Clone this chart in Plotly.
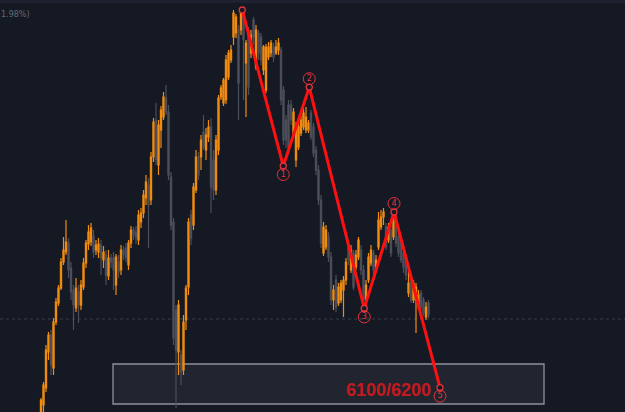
import plotly.graph_objects as go

# ---------------- data (prices) ----------------
opens = [
    6080, 6097.5, 6140, 6230, 6272.5, 6190, 6305, 6352.5, 6390, 6455, 6480, 6502.5, 6440, 6385, 6340, 6380, 6347.5, 6392.5, 6452.5, 6500,
    6505, 6520, 6485, 6480, 6497.5, 6460, 6472.5, 6420, 6465, 6465, 6397.5, 6455, 6435, 6485, 6490, 6447.5, 6502.5, 6535, 6530, 6510,
    6555, 6577.5, 6615, 6647.5, 6610, 6717.5, 6810, 6697.5, 6785, 6817.5, 6865, 6830, 6667.5, 6555, 6335,
    6230, 6222.5, 6185, 6310, 6392.5, 6572.5, 6547.5, 6635, 6717.5, 6717.5, 6780, 6735, 6767.5, 6792.5, 6710, 6635, 6735, 6867.5, 6852.5, 6860,
    6917.5, 6960, 7017.5, 7027.5, 7035, 7035, 7080, 6952.5, 7035, 6977.5, 7060, 6942.5, 7027.5, 7017.5, 6935, 6885, 6967.5, 6977.5, 6992.5, 6977.5,
    6985, 6985, 6885, 6810, 6847.5,
    6847.5, 6777.5, 6710, 6742.5, 6777.5, 6792.5, 6785, 6785, 6827.5, 6792.5, 6735, 6685, 6610,
    6477.5, 6492.5, 6517.5, 6467.5, 6360, 6410, 6352.5, 6360, 6385, 6410, 6492.5, 6435, 6477.5, 6442.5, 6467.5, 6485, 6435, 6360, 6410, 6452.5,
    6477.5, 6442.5, 6492.5, 6542.5, 6567.5, 6542.5, 6510, 6535, 6517.5, 6567.5, 6517.5, 6502.5, 6477.5, 6460, 6377.5, 6417.5, 6360, 6360, 6347.5, 6377.5,
    6360, 6317.5, 6352.5,
]
highs = [
    6115, 6155, 6247.5, 6280, 6285, 6315, 6365, 6397.5, 6465, 6517.5, 6560, 6515, 6455, 6397.5, 6415, 6397.5, 6410, 6465, 6510, 6547.5,
    6552.5, 6535, 6510, 6515, 6510, 6495, 6485, 6485, 6475, 6480, 6475, 6472.5, 6497.5, 6495, 6502.5, 6510, 6545, 6542.5, 6545, 6585,
    6590, 6635, 6672.5, 6665, 6730, 6815, 6852.5, 6810, 6845, 6880, 6897.5, 6847.5, 6680, 6565, 6347.5,
    6360, 6235, 6322.5, 6397.5, 6565, 6585, 6652.5, 6735, 6730, 6772.5, 6822.5, 6790, 6810, 6815, 6735, 6772.5, 6872.5, 6897.5, 6915, 6972.5,
    6985, 6997.5, 7085, 7075, 7047.5, 7087.5, 7090, 7010, 7042.5, 7035, 7067.5, 7047.5, 7035, 7027.5, 6997.5, 7000, 7005, 7010, 7002.5, 7010,
    7015, 6992.5, 6895, 6822.5, 6860,
    6860, 6840, 6805, 6805, 6820, 6840, 6842.5, 6810, 6835, 6802.5, 6745, 6697.5, 6622.5,
    6555, 6547.5, 6530, 6480, 6397.5, 6422.5, 6402.5, 6410, 6420, 6465, 6502.5, 6497.5, 6485, 6485, 6517.5, 6497.5, 6447.5, 6410, 6477.5, 6497.5,
    6485, 6472.5, 6580, 6585, 6590, 6552.5, 6552.5, 6547.5, 6572.5, 6585, 6527.5, 6510, 6485, 6472.5, 6435, 6427.5, 6410, 6402.5, 6385, 6385,
    6367.5, 6355, 6360,
]
lows = [
    6075, 6080, 6130, 6210, 6172.5, 6172.5, 6297.5, 6345, 6385, 6447.5, 6472.5, 6415, 6360, 6285, 6330, 6302.5, 6335, 6385, 6440, 6485,
    6495, 6465, 6472.5, 6465, 6422.5, 6440, 6397.5, 6410, 6440, 6385, 6372.5, 6415, 6422.5, 6460, 6455, 6435, 6490, 6510, 6500, 6497.5,
    6540, 6565, 6597.5, 6490, 6597.5, 6705, 6697.5, 6672.5, 6740, 6810, 6822.5, 6660, 6535, 6247.5, 6090,
    6172.5, 6147.5, 6172.5, 6285, 6372.5, 6497.5, 6535, 6627.5, 6660, 6685, 6735, 6710, 6755, 6577.5, 6610, 6622.5, 6722.5, 6860, 6845, 6850,
    6910, 6952.5, 6997.5, 7015, 6810, 7022.5, 6860, 6817.5, 6872.5, 6965, 6997.5, 6935, 6960, 6947.5, 6922.5, 6877.5, 6960, 6967.5, 6955, 6972.5,
    6972.5, 6847.5, 6747.5, 6740, 6722.5,
    6797.5, 6770, 6692.5, 6735, 6770, 6785, 6777.5, 6777.5, 6760, 6717.5, 6672.5, 6597.5, 6490,
    6470, 6485, 6455, 6347.5, 6335, 6330, 6345, 6352.5, 6317.5, 6397.5, 6447.5, 6427.5, 6385, 6435, 6460, 6422.5, 6335, 6330, 6402.5, 6445,
    6422.5, 6435, 6485, 6535, 6547.5, 6485, 6502.5, 6467.5, 6510, 6492.5, 6467.5, 6452.5, 6427.5, 6410, 6367.5, 6352.5, 6352.5, 6277.5, 6335, 6335,
    6320, 6310, 6315,
]
closes = [
    6110, 6147.5, 6235, 6272.5, 6197.5, 6305, 6355, 6390, 6455, 6485, 6505, 6435, 6380, 6347.5, 6390, 6347.5, 6397.5, 6452.5, 6502.5, 6530,
    6540, 6480, 6497.5, 6500, 6465, 6480, 6422.5, 6465, 6455, 6435, 6467.5, 6430, 6485, 6472.5, 6465, 6502.5, 6535, 6522.5, 6515, 6572.5,
    6577.5, 6622.5, 6655, 6597.5, 6717.5, 6805, 6710, 6797.5, 6835, 6867.5, 6830, 6672.5, 6547.5, 6265, 6235,
    6347.5, 6180, 6305, 6390, 6555, 6515, 6642.5, 6717.5, 6672.5, 6760, 6742.5, 6772.5, 6792.5, 6642.5, 6635, 6760, 6865, 6890, 6910, 6960,
    6977.5, 6985, 7077.5, 7067.5, 6902.5, 7080, 7010, 7002.5, 6892.5, 7022.5, 7017.5, 7035, 6977.5, 6960, 6992.5, 6992.5, 6992.5, 7002.5, 6967.5, 6992.5,
    7002.5, 6860, 6760, 6760, 6742.5,
    6810, 6830, 6792.5, 6792.5, 6810, 6827.5, 6817.5, 6802.5, 6767.5, 6727.5, 6685, 6610, 6502.5,
    6542.5, 6535, 6467.5, 6360, 6385, 6342.5, 6392.5, 6402.5, 6410, 6455, 6460, 6485, 6392.5, 6472.5, 6510, 6435, 6360, 6397.5, 6467.5, 6485,
    6435, 6460, 6560, 6567.5, 6580, 6492.5, 6542.5, 6477.5, 6560, 6502.5, 6477.5, 6460, 6442.5, 6422.5, 6402.5, 6360, 6402.5, 6392.5, 6372.5, 6342.5,
    6327.5, 6342.5, 6322.5,
]
bars = list(range(len(closes)))

# Elliott wave pivots (bar index, price) and labels
wave_bars = [80.5, 96.9, 107.3, 129.3, 141.2, 159.6]
wave_prices = [7085, 6695, 6892, 6339, 6580, 6141]
wave_labels = ["", "1", "2", "3", "4", "5"]
wave_label_side = [0, -1, 1, -1, 1, -1]   # +1 above, -1 below

target_zone = [6100, 6200]
target_text = "6100/6200"
last_price_line = 6312.5

# ---------------- styling ----------------
BG = "#151924"
ORANGE = "#f08c10"
GREY = "#4b4f5a"
RED = "#ff1010"
LABEL_RED = "#e8323a"

X0, X1 = -16.4, 233.6
Y0, Y1 = 6080, 7110
PX = (Y1 - Y0) / 412.0  # price per pixel

fig = go.Figure()

fig.add_trace(go.Candlestick(
    x=bars, open=opens, high=highs, low=lows, close=closes,
    increasing=dict(line=dict(color=ORANGE, width=1.2), fillcolor=ORANGE),
    decreasing=dict(line=dict(color=GREY, width=1.2), fillcolor=GREY),
    whiskerwidth=0, hoverinfo="skip", showlegend=False,
))

# wave line
fig.add_trace(go.Scatter(
    x=wave_bars, y=wave_prices, mode="lines",
    line=dict(color=RED, width=3), hoverinfo="skip", showlegend=False,
))
# pivot circles
fig.add_trace(go.Scatter(
    x=wave_bars, y=wave_prices, mode="markers",
    marker=dict(symbol="circle", size=6, color=BG, line=dict(color=LABEL_RED, width=1.3)),
    hoverinfo="skip", showlegend=False,
))
# label circles
lab_x = [b for b, t in zip(wave_bars, wave_labels) if t]
lab_y = [p + s * 8.5 * PX for p, s, t in zip(wave_prices, wave_label_side, wave_labels) if t]
lab_t = [t for t in wave_labels if t]
fig.add_trace(go.Scatter(
    x=lab_x, y=lab_y, mode="markers+text", text=lab_t,
    textposition="middle center",
    textfont=dict(color=LABEL_RED, size=8, family="DejaVu Sans"),
    marker=dict(symbol="circle-open", size=12, color=LABEL_RED, line=dict(width=1)),
    hoverinfo="skip", showlegend=False,
))

shapes = [
    dict(type="rect", xref="x", yref="y", x0=28.8, x1=201.2, y0=target_zone[0], y1=target_zone[1],
         fillcolor="rgba(255,255,255,0.055)", line=dict(color="#8e919b", width=1.3), layer="below"),
    dict(type="line", xref="paper", yref="y", x0=0, x1=1, y0=last_price_line, y1=last_price_line,
         line=dict(color="#3a3e4a", width=1, dash="dot"), layer="below"),
    dict(type="rect", xref="paper", yref="paper", x0=0, x1=1, y0=1 - 3 / 412, y1=1,
         fillcolor="#1e2230", line=dict(width=0), layer="below"),
]

annotations = [
    dict(x=138.8, y=6135, xref="x", yref="y", text=f"<b>{target_text}</b>", showarrow=False,
         font=dict(color="#c41a1e", size=18, family="Liberation Sans")),
    dict(x=-0.002, y=1 - 15 / 412, xref="paper", yref="paper", xanchor="left", yanchor="middle",
         text="1.98%)", showarrow=False, font=dict(color="#666a75", size=8, family="DejaVu Sans")),
]

fig.update_layout(
    width=625, height=412, margin=dict(l=0, r=0, t=0, b=0),
    paper_bgcolor=BG, plot_bgcolor=BG,
    shapes=shapes, annotations=annotations,
    xaxis=dict(range=[X0, X1], visible=False, rangeslider=dict(visible=False), fixedrange=True),
    yaxis=dict(range=[Y0, Y1], visible=False, fixedrange=True),
    showlegend=False,
)

fig.write_html("out.html")
